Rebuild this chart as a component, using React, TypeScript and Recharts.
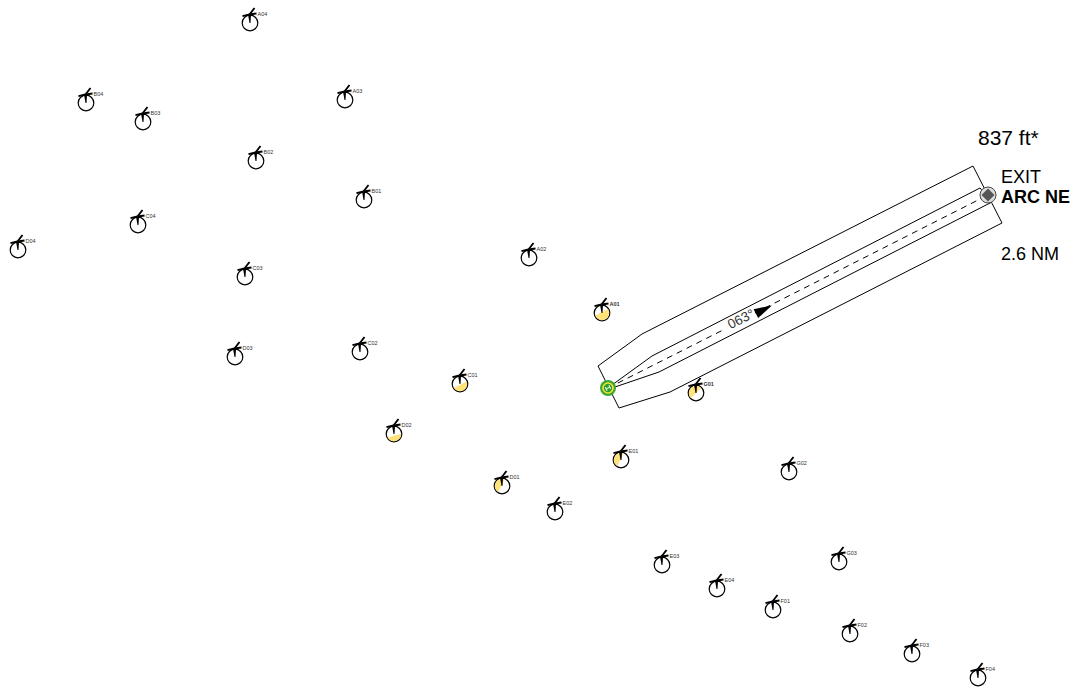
import { ScatterChart, Scatter, XAxis, YAxis } from "recharts";

const FONT = "Liberation Sans, Arial, sans-serif";

// everything on this map is read in picture units
const turbineNames = [
    "A01", "A02", "A03", "A04", "B01", "B02", "B03", "B04", "C01", "C02", "C03", "C04", "D01", "D02", "D03", "D04",
    "E01", "E02", "E03", "E04", "F01", "F02", "F03", "F04", "G01", "G02", "G03",
];
const turbineX = [
    602, 529, 345, 250, 364, 256, 143, 86, 460, 360, 245, 138, 502, 394, 235, 18,
    621, 555, 662, 717, 773, 850, 912, 978, 696, 789, 839,
];
const turbineY = [
    313, 258, 100, 23, 200, 161, 122, 103, 384, 352, 277, 225, 486, 434, 357, 250,
    460, 512, 565, 589, 610, 634, 654, 678, 393, 472, 562,
];
// share of each circle shaded yellow, and which way the shaded side faces (degrees, clockwise from east)
const turbineShade = [
    0.55, 0, 0, 0, 0, 0, 0, 0, 0.45, 0, 0, 0, 0.45, 0.38, 0, 0,
    0.45, 0, 0, 0, 0, 0, 0, 0, 0.5, 0, 0,
];
const turbineFacing = [
    63, 0, 0, 0, 0, 0, 0, 0, 63, 0, 0, 0, 205, 75, 0, 0,
    205, 0, 0, 0, 0, 0, 0, 0, 225, 0, 0,
];
const boldNames = ["A01", "G01"];

const outerEdge = [
    { x: 598, y: 366 }, { x: 642, y: 334 }, { x: 973, y: 166 }, { x: 1002, y: 223 },
    { x: 670, y: 392 }, { x: 619, y: 408 }, { x: 598, y: 366 },
];
const innerEdge = [
    { x: 612, y: 385 }, { x: 652, y: 356 }, { x: 980, y: 188 }, { x: 992, y: 202 },
    { x: 659, y: 372 }, { x: 612, y: 388 },
];
const trackBefore = [{ x: 608, y: 388 }, { x: 725, y: 329 }];
const trackAfter = [{ x: 755, y: 313 }, { x: 988, y: 195 }];

const heliPoint = [{ x: 608, y: 388 }];
const exitPoint = [{ x: 988, y: 195 }];
const arrowPoint = [{ x: 763, y: 310 }];
const bearingLabel = [{ x: 741, y: 319, text: "063°" }];
const mapLabels = [
    { x: 978, y: 145, text: "837 ft*", size: 21, bold: false },
    { x: 1001, y: 183, text: "EXIT", size: 18, bold: false },
    { x: 1001, y: 203, text: "ARC NE", size: 18, bold: true },
    { x: 1001, y: 260, text: "2.6 NM", size: 18, bold: false },
];

const turbines = turbineNames.map((name, i) => ({
    name,
    x: turbineX[i],
    y: turbineY[i],
    shade: turbineShade[i],
    facing: turbineFacing[i],
}));

const Nothing = () => <g />;

const shadePath = (cx: number, cy: number, r: number, share: number, facing: number) => {
    const a = (facing * Math.PI) / 180;
    const nx = Math.cos(a);
    const ny = Math.sin(a);
    const tx = ny;
    const ty = -nx;
    const d = r * (1 - 2 * share);
    const h = Math.sqrt(r * r - d * d);
    const mx = cx + nx * d;
    const my = cy + ny * d;
    const large = share > 0.5 ? 1 : 0;
    return `M${mx + tx * h},${my + ty * h} A${r},${r} 0 ${large} 1 ${mx - tx * h},${my - ty * h} Z`;
};

const Turbine = (props: any) => {
    const { cx, cy, payload } = props;
    const bold = boldNames.includes(payload.name);
    const hx = cx - 0.5;
    const hy = cy - 8.5;
    return (
        <g>
            <circle cx={cx} cy={cy} r={7.8} fill="#fff" stroke="#000" strokeWidth={1.2} />
            {payload.shade > 0 && <path d={shadePath(cx, cy, 7.2, payload.shade, payload.facing)} fill="#ffe27a" />}
            <path d={`M${hx - 1.5},${hy} L${hx + 1.5},${hy} L${cx + 0.5},${cy} L${cx - 0.5},${cy} Z`} fill="#000" />
            <line x1={hx} y1={hy} x2={hx + 5} y2={hy - 6.5} stroke="#000" strokeWidth={1.9} />
            <line x1={hx} y1={hy} x2={hx - 7} y2={hy + 1.7} stroke="#000" strokeWidth={1.9} />
            <line x1={hx} y1={hy} x2={hx + 7} y2={hy - 1} stroke="#000" strokeWidth={1.9} />
            <text x={cx + 7.5} y={cy - 7} fontSize={5.5} fontFamily={FONT} fontWeight={bold ? 700 : 400} fill="#333">
                {payload.name}
            </text>
        </g>
    );
};

const Heli = (props: any) => {
    const { cx, cy } = props;
    return (
        <g>
            <circle cx={cx} cy={cy} r={8} fill="#3fa535" />
            <circle cx={cx} cy={cy} r={5.8} fill="#f2e52e" />
            <circle cx={cx} cy={cy} r={4.2} fill="#2f9e2f" />
            <g transform={`rotate(-27 ${cx} ${cy})`} stroke="#fff" strokeWidth={1}>
                <line x1={cx - 2} y1={cy - 2} x2={cx - 2} y2={cy + 2} />
                <line x1={cx + 2} y1={cy - 2} x2={cx + 2} y2={cy + 2} />
                <line x1={cx - 2} y1={cy} x2={cx + 2} y2={cy} />
            </g>
        </g>
    );
};

const ExitMark = (props: any) => {
    const { cx, cy } = props;
    return (
        <g>
            <circle cx={cx} cy={cy} r={8} fill="#ddd" stroke="#444" strokeWidth={1} />
            <path d={`M${cx - 6.5},${cy} L${cx},${cy - 6.5} L${cx + 6.5},${cy} L${cx},${cy + 6.5} Z`} fill="#555" />
        </g>
    );
};

const Arrow = (props: any) => {
    const { cx, cy } = props;
    return (
        <path
            transform={`rotate(-27 ${cx} ${cy})`}
            d={`M${cx + 10},${cy} L${cx - 8},${cy - 5} L${cx - 8},${cy + 5} Z`}
            fill="#000"
        />
    );
};

const Bearing = (props: any) => {
    const { cx, cy, payload } = props;
    return (
        <text
            x={cx}
            y={cy}
            transform={`rotate(-27 ${cx} ${cy})`}
            textAnchor="middle"
            dominantBaseline="central"
            fontSize={13.5}
            fontFamily={FONT}
            fill="#333"
        >
            {payload.text}
        </text>
    );
};

const MapLabel = (props: any) => {
    const { cx, cy, payload } = props;
    return (
        <text x={cx} y={cy} fontSize={payload.size} fontFamily={FONT} fontWeight={payload.bold ? 700 : 400} fill="#000">
            {payload.text}
        </text>
    );
};

export default function App() {
    return (
        <div style={{ position: "absolute", left: 0, top: 0, width: 1078, height: 690, background: "#fff" }}>
            <ScatterChart width={1078} height={690} margin={{ top: 0, right: 0, bottom: 0, left: 0 }}>
                <XAxis type="number" dataKey="x" domain={[0, 1078]} hide />
                <YAxis type="number" dataKey="y" domain={[0, 690]} reversed hide />
                <Scatter data={outerEdge} line={{ stroke: "#000", strokeWidth: 1 }} shape={Nothing} isAnimationActive={false} />
                <Scatter data={innerEdge} line={{ stroke: "#000", strokeWidth: 1 }} shape={Nothing} isAnimationActive={false} />
                <Scatter data={trackBefore} line={{ stroke: "#000", strokeWidth: 1, strokeDasharray: "6 5" }} shape={Nothing} isAnimationActive={false} />
                <Scatter data={trackAfter} line={{ stroke: "#000", strokeWidth: 1, strokeDasharray: "6 5" }} shape={Nothing} isAnimationActive={false} />
                <Scatter data={turbines} shape={Turbine} isAnimationActive={false} />
                <Scatter data={heliPoint} shape={Heli} isAnimationActive={false} />
                <Scatter data={exitPoint} shape={ExitMark} isAnimationActive={false} />
                <Scatter data={arrowPoint} shape={Arrow} isAnimationActive={false} />
                <Scatter data={bearingLabel} shape={Bearing} isAnimationActive={false} />
                <Scatter data={mapLabels} shape={MapLabel} isAnimationActive={false} />
            </ScatterChart>
        </div>
    );
}
